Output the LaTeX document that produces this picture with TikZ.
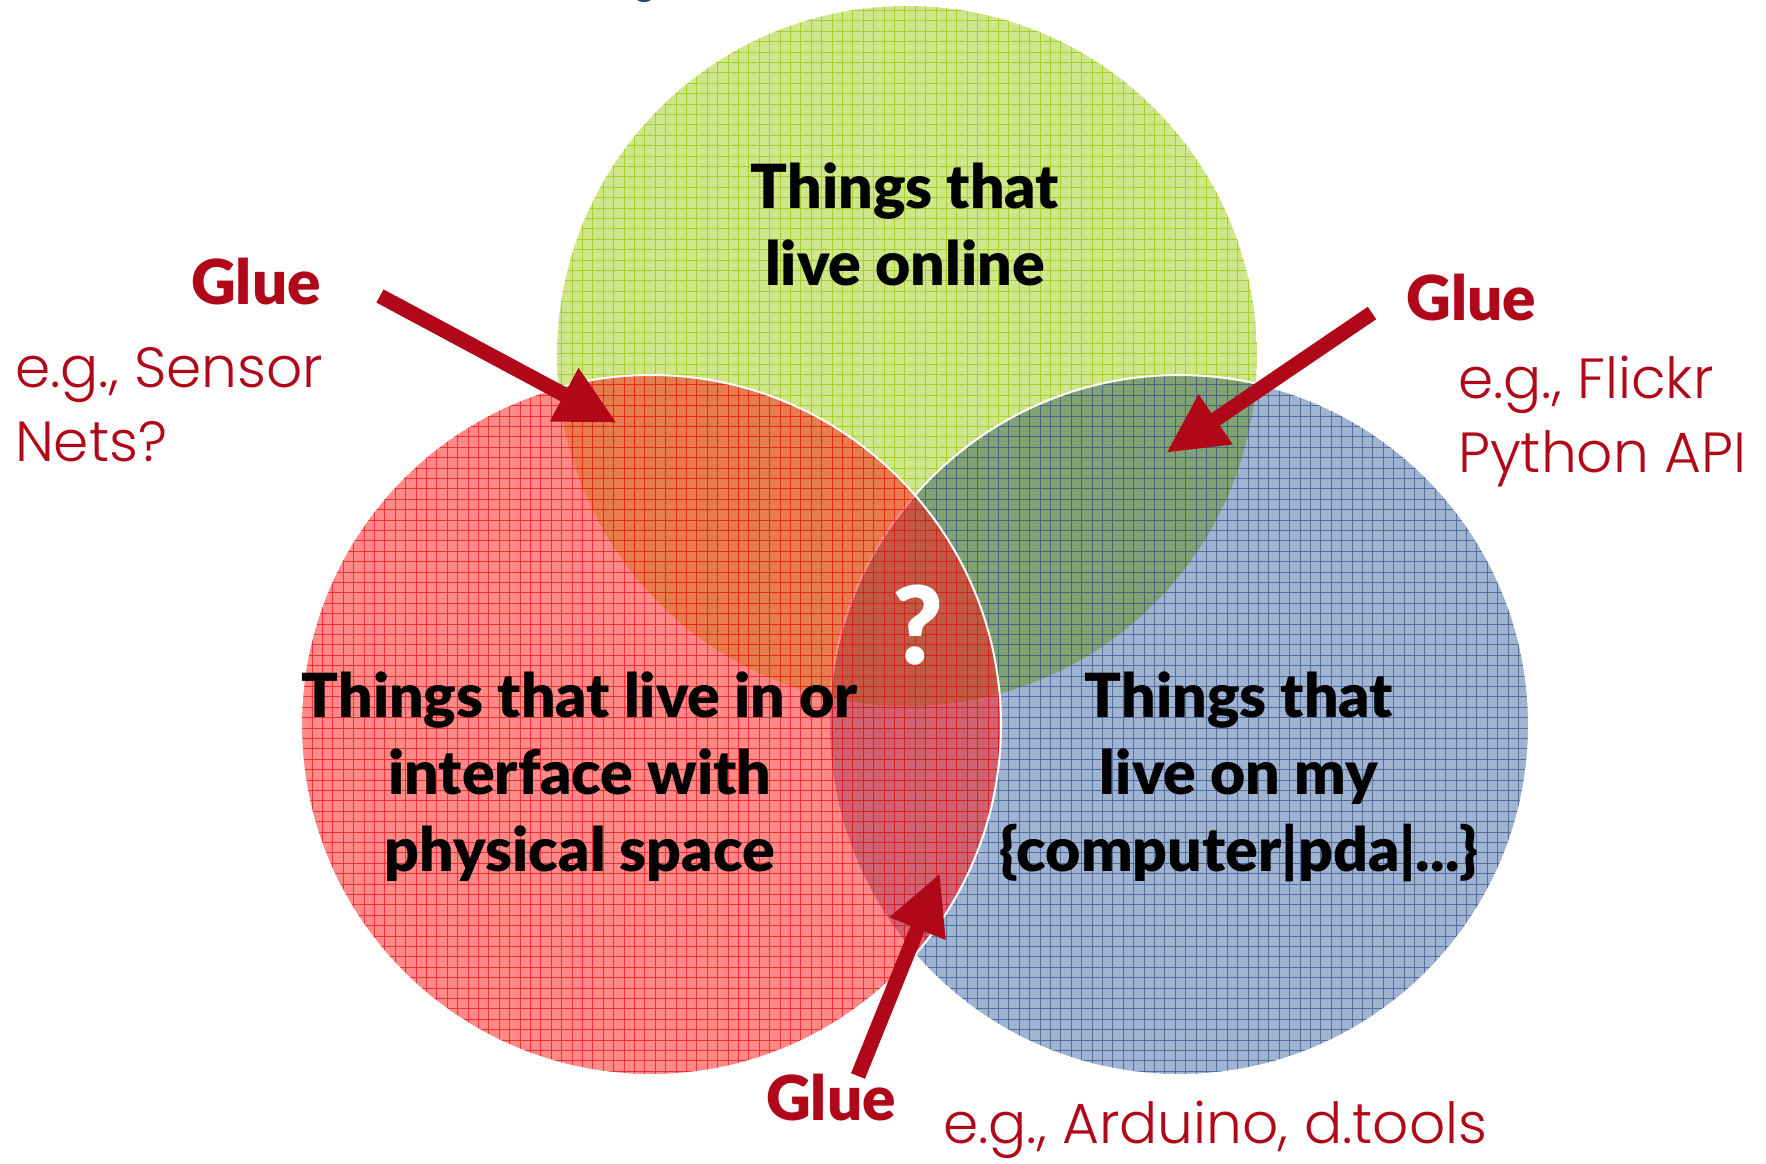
\documentclass[tikz,border=0pt]{standalone}
\usepackage{fontspec}
\setmainfont{Lato}
\newfontfamily\thingfont{Lato Black}
\newfontfamily\egfont{Poppins Light}
\usetikzlibrary{arrows.meta}
\definecolor{onlinegreen}{RGB}{208,230,140}
\definecolor{onlinegrid}{RGB}{165,208,40}
\definecolor{spacered}{RGB}{255,20,20}
\definecolor{spacegrid}{RGB}{235,20,20}
\definecolor{pcblue}{RGB}{160,180,210}
\definecolor{pcgrid}{RGB}{60,95,150}
\definecolor{gluered}{RGB}{176,8,24}
\definecolor{titleblue}{RGB}{30,70,125}

\begin{document}
\begin{tikzpicture}[x=0.5pt,y=-0.5pt,
    thing/.style={align=center, font=\thingfont\fontsize{30.4}{38.5}\selectfont},
    glue/.style={text=gluered, font=\thingfont\fontsize{31}{34}\selectfont},
    eg/.style={text=gluered, align=left, anchor=west, font=\egfont\fontsize{28.3}{37}\selectfont},
    gluearrow/.style={draw=gluered, line width=7.5pt, -{Triangle[length=30pt,width=28pt]}},
    rim/.style={draw=white, line width=1pt}]
\useasboundingbox (0,0) rectangle (1766,1163);

% bit of the title, cut off at the top
\fill[titleblue] (644,-12) ellipse (14 and 14);

% online
\begin{scope}
\clip (907,356) circle (350);
\fill[onlinegreen] (907,356) circle (350);
\draw[onlinegrid, line width=0.5pt, step=5.2pt] (550,0) grid (1270,710);
\end{scope}

% my computer
\begin{scope}
\clip (1179,725) circle (350);
\begin{scope}[blend mode=multiply]
\fill[pcblue] (1179,725) circle (350);
\end{scope}
\draw[pcgrid, line width=0.5pt, step=5.2pt, opacity=0.8] (820,370) grid (1540,1080);
\end{scope}
\draw[rim] (1179,725) circle (350);

% physical space
\begin{scope}
\clip (651,725) circle (350);
\fill[spacered, fill opacity=0.5] (651,725) circle (350);
\draw[spacegrid, line width=0.5pt, step=5.2pt, opacity=0.75] (290,370) grid (1010,1080);
\end{scope}
\draw[rim] (651,725) circle (350);

\node[thing](online) at (905,224){Things that\\live online};
\node[thing](physical) at (580,777){Things that live in or\\interface with\\physical space};
\node[thing](computer) at (1239,777){Things that\\live on my\\\{computer|pda|...\}};
\node[text=white, font=\thingfont\fontsize{54}{54}\selectfont](Q) at (918,625){?};

\node[glue](G1) at (256,282){Glue};
\node[glue](G2) at (1471,298){Glue};
\node[glue](G3) at (831,1098){Glue};
\node[eg](E1) at (8,405){e.g., Sensor\\Nets?};
\node[eg](E2) at (1451,421){e.g., Flickr\\Python API};
\node[eg](E3) at (936,1130){e.g., Arduino, d.tools};

\coordinate (T1) at (380,296);
\coordinate (H1) at (617,423);
\coordinate (T2) at (1372,313);
\coordinate (H2) at (1166,453);
\coordinate (T3) at (858,1076);
\coordinate (H3) at (940,873);
\draw[gluearrow] (T1) -- (H1);
\draw[gluearrow] (T2) -- (H2);
\draw[gluearrow] (T3) -- (H3);

\end{tikzpicture}
\end{document}
